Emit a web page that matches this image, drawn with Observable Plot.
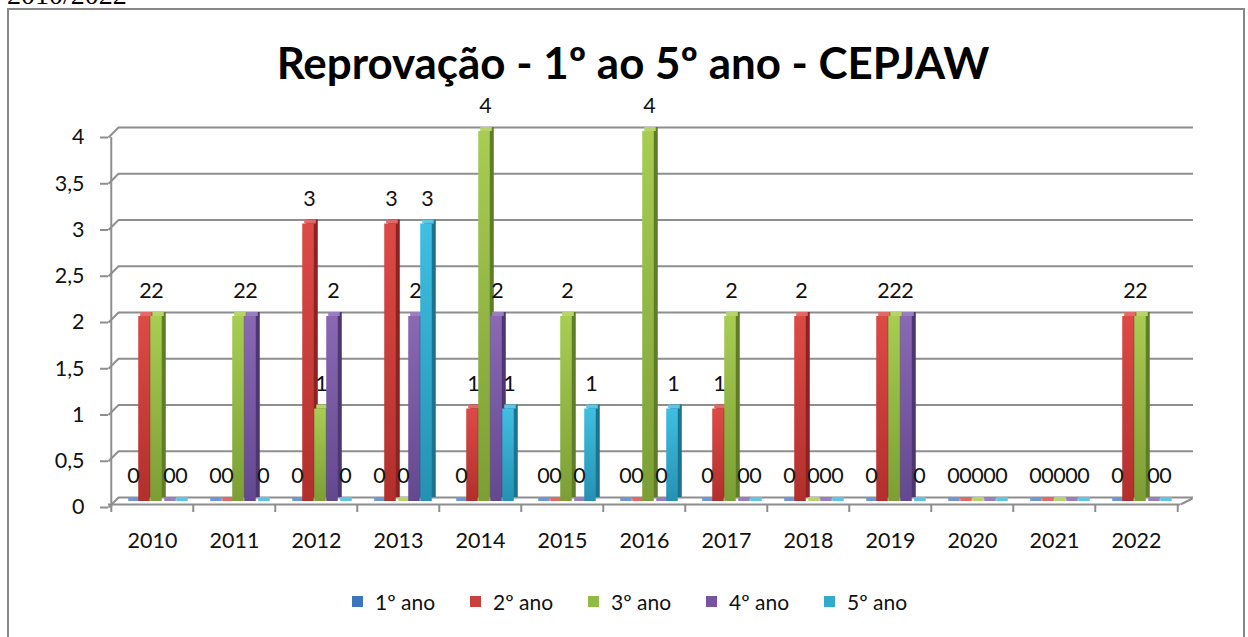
<!DOCTYPE html>
<html><head><meta charset="utf-8">
<script src="https://cdn.jsdelivr.net/npm/d3@7"></script>
<script src="https://cdn.jsdelivr.net/npm/@observablehq/plot@0.6"></script>
<style>
html,body{margin:0;padding:0;background:#fff;}
body{width:1248px;height:637px;overflow:hidden;position:relative;font-family:Lato,sans-serif;}
#cut{position:absolute;left:7px;top:-21px;font:28px "Liberation Serif",serif;color:#000;white-space:nowrap;}
#frame{position:absolute;left:7px;top:8px;width:1234px;height:700px;border:2px solid #878787;}
#title{position:absolute;top:36px;left:0;width:1266px;text-align:center;font-weight:700;font-size:34px;color:#000;white-space:nowrap;font-family:Lato,sans-serif;}
#title span{display:inline-block;}
#chart{position:absolute;left:0;top:100px;}
#legend{position:absolute;top:589px;left:352px;display:flex;font-size:21px;color:#111;}
#legend .it{width:118px;display:flex;align-items:center;}
#legend .sw{width:11px;height:11px;margin-right:12px;}
</style></head>
<body>
<svg width="0" height="0" style="position:absolute">
  <defs id="defs"></defs>
</svg>
<div id="cut">2010/2022</div>
<div id="frame"></div>
<div id="title"><span id="tt">Reprovação - 1º ao 5º ano - CEPJAW</span></div>
<div id="chart"></div>
<div id="legend"></div>
<script>
const years = ["2010","2011","2012","2013","2014","2015","2016","2017","2018","2019","2020","2021","2022"];
const series = ["1º ano","2º ano","3º ano","4º ano","5º ano"];
const ano1 = [0,0,0,0,0,0,0,0,0,0,0,0,0];
const ano2 = [2,0,3,3,1,0,0,1,2,2,0,0,2];
const ano3 = [2,2,1,0,4,2,4,2,0,2,0,0,2];
const ano4 = [0,2,2,2,2,0,0,0,0,2,0,0,0];
const ano5 = [0,0,0,3,1,1,1,0,0,0,0,0,0];
const yTicks = [0,0.5,1,1.5,2,2.5,3,3.5,4];
const titleText = "Reprovação - 1º ao 5º ano - CEPJAW";

const values = [ano1, ano2, ano3, ano4, ano5];
// front gradient top, bottom, side, top face, legend
const palette = [
  ["#4f88d0","#2f5f9e","#274c80","#6f98d2","#3c74be"],
  ["#dd4a46","#b22f2c","#8a2321","#e06a68","#c9403d"],
  ["#a8cd52","#7c9e35","#5f7d28","#b5d46a","#92bb46"],
  ["#8b68b4","#634890","#4c376f","#9a7ec0","#7654a2"],
  ["#3fbfe2","#2591b2","#1d728d","#5ec6e4","#30aacd"]
];

// gradients
const defs = document.getElementById("defs");
palette.forEach((p,i)=>{
  defs.insertAdjacentHTML("beforeend",
    `<linearGradient id="g${i}" x1="0" y1="0" x2="0" y2="1"><stop offset="0" stop-color="${p[0]}"/><stop offset="1" stop-color="${p[1]}"/></linearGradient>`);
});

const rows = years.flatMap((yr,j)=>series.map((s,i)=>({year:yr, series:s, i, value: values[i][j]})));

const width = 1248, height = 467, mL = 108, mR = 68, mT = 27, mB = 70;
const bw = (width - mL - mR) / years.length;
const barW = 12, groupShift = 4;
const grid = "#8e8e8e";

const diag = {draw(ctx){ ctx.moveTo(0,0); ctx.lineTo(10,-10); }};
const diagR = {draw(ctx){ ctx.moveTo(0,0); ctx.lineTo(12,-6); }};

const marks = [
  Plot.ruleY(yTicks, {stroke: grid, strokeWidth: 2, dx: 10, insetRight: -3}),
  Plot.dot(yTicks, {y: d=>d, frameAnchor: "left", symbol: diag, stroke: grid, strokeWidth: 2, fill: "none", dy: 10}),
  Plot.ruleX([years[0]], {x: d=>d, y1: 0, y2: 4, dx: -bw/2, dy: 10, stroke: grid, strokeWidth: 2}),
  Plot.ruleY([0], {stroke: grid, strokeWidth: 2, dy: 7}),
  Plot.dot([0], {y: d=>d, frameAnchor: "right", symbol: diagR, stroke: grid, strokeWidth: 2, fill: "none", dy: 7}),
  Plot.ruleX(years, {x: d=>d, y1: 0, y2: 0, dx: -bw/2, dy: 7, insetBottom: -8, stroke: grid, strokeWidth: 2}),
  Plot.ruleX([years[years.length-1]], {x: d=>d, y1: 0, y2: 0, dx: bw/2, dy: 7, insetBottom: -8, stroke: grid, strokeWidth: 2}),
  Plot.axisY({ticks: yTicks, tickSize: 8, tickPadding: 16, dy: 10, stroke: grid, strokeWidth: 2, label: null,
    tickFormat: d => String(d).replace(".", ","), fontSize: 21.5, fill: "#111"}),
  Plot.axisX({tickSize: 0, tickPadding: 35, fontSize: 21.5, label: null, fill: "#111"})
];

series.forEach((s,i)=>{
  const data = rows.filter(r=>r.i===i);
  const inL = bw/2 + groupShift - (barW*series.length)/2 + barW*i;
  const inR = bw - inL - barW;
  const p = palette[i];
  marks.push(
    Plot.barY(data, {x: "year", y1: 0, y2: "value", fill: p[2], insetLeft: inL, insetRight: inR, dx: 4, dy: 0}),
    Plot.barY(data, {x: "year", y1: "value", y2: "value", fill: p[3], insetLeft: inL, insetRight: inR, insetTop: -4, dx: 2, dy: 4}),
    Plot.barY(data, {x: "year", y1: 0, y2: "value", fill: `url(#g${i})`, insetLeft: inL, insetRight: inR, dy: 4})
  );
});
series.forEach((s,i)=>{
  const data = rows.filter(r=>r.i===i);
  marks.push(Plot.text(data, {x: "year", y: "value", text: d=>String(d.value), dx: -19 + 12*i, dy: -21, fontSize: 21.5, fill: "#111"}));
});

const chart = Plot.plot({
  width, height, marginLeft: mL, marginRight: mR, marginTop: mT, marginBottom: mB,
  x: {type: "band", domain: years, padding: 0, axis: null},
  y: {domain: [0,4], axis: null},
  style: {fontFamily: "Lato, sans-serif", background: "transparent", overflow: "visible"},
  marks
});
document.getElementById("chart").appendChild(chart);

// legend
const lg = document.getElementById("legend");
series.forEach((s,i)=>{
  lg.insertAdjacentHTML("beforeend", `<div class="it"><div class="sw" style="background:${palette[i][4]}"></div><span>${s}</span></div>`);
});

// fit title width
const tt = document.getElementById("tt");
let fs = 34; tt.style.fontSize = fs + "px";
const w = tt.getBoundingClientRect().width;
fs = fs * 713 / w; tt.style.fontSize = fs + "px";
</script>
</body></html>
